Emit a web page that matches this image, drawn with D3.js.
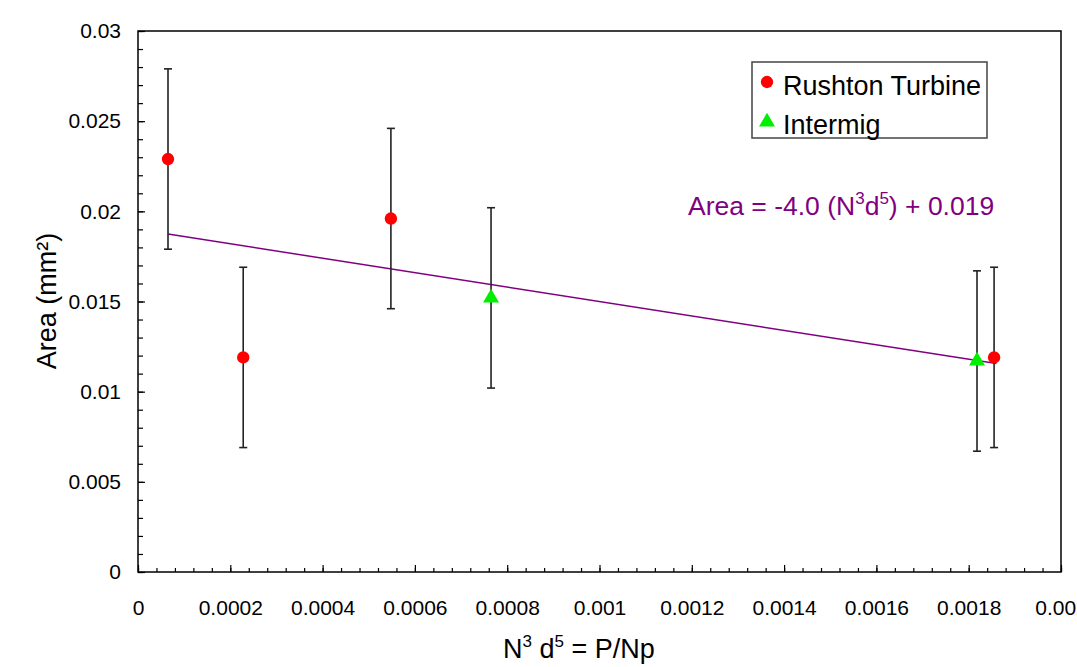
<!DOCTYPE html>
<html>
<head>
<meta charset="utf-8">
<script src="https://cdnjs.cloudflare.com/ajax/libs/d3/7.8.5/d3.min.js"></script>
<style>
	body { margin: 0; background: #fff; }
	text { font-family: "Liberation Sans", Arial, sans-serif; }
</style>
</head>
<body>
<div id="chart"></div>
<script>
const WIDTH = 1077,
	  HEIGHT = 667;

// plot frame
const plotLeft = 138,
	  plotRight = 1061,
	  plotTop = 31,
	  plotBottom = 572;

// data
let rushtonX = [0.000065, 0.000228, 0.000548, 0.001855],
	rushtonY = [0.0229, 0.0119, 0.0196, 0.0119],
	rushtonErr = [0.005, 0.005, 0.005, 0.005];

let intermigX = [0.000765, 0.001818],
	intermigY = [0.0152, 0.0117],
	intermigErr = [0.005, 0.005];

let fitSlope = -4.0,
	fitIntercept = 0.019,
	fitRange = [0.000065, 0.00186];

let xTicks = [0, 0.0002, 0.0004, 0.0006, 0.0008, 0.001, 0.0012, 0.0014, 0.0016, 0.0018, 0.002],
	xTickLabels = ["0", "0.0002", "0.0004", "0.0006", "0.0008", "0.001", "0.0012", "0.0014", "0.0016", "0.0018", "0.002"];
let yTicks = [0, 0.005, 0.01, 0.015, 0.02, 0.025, 0.03],
	yTickLabels = ["0", "0.005", "0.01", "0.015", "0.02", "0.025", "0.03"];

let legendNames = ["Rushton Turbine", "Intermig"];

let svg = d3.select("#chart").append("svg")
	.attr("width", WIDTH)
	.attr("height", HEIGHT);

let x = d3.scaleLinear().domain([0, 0.002]).range([plotLeft, plotRight]),
	y = d3.scaleLinear().domain([0, 0.03]).range([plotBottom, plotTop]);

// minor ticks
let xMinor = d3.range(0, 51).map(i => i * 0.00004),
	yMinor = d3.range(0, 31).map(i => i * 0.001);

svg.append("g")
	.attr("transform", "translate(0," + plotBottom + ")")
	.call(d3.axisBottom(x).tickValues(xMinor).tickSize(-4).tickFormat(""))
	.call(g => g.select(".domain").remove());

svg.append("g")
	.attr("transform", "translate(" + plotLeft + ",0)")
	.call(d3.axisLeft(y).tickValues(yMinor).tickSize(-5).tickFormat(""))
	.call(g => g.select(".domain").remove());

// major ticks and labels
let xAxis = svg.append("g")
	.attr("transform", "translate(0," + plotBottom + ")")
	.call(d3.axisBottom(x).tickValues(xTicks).tickSize(-7).tickPadding(28)
		.tickFormat((d, i) => xTickLabels[i]));

let yAxis = svg.append("g")
	.attr("transform", "translate(" + plotLeft + ",0)")
	.call(d3.axisLeft(y).tickValues(yTicks).tickSize(-7).tickPadding(17)
		.tickFormat((d, i) => yTickLabels[i]));

[xAxis, yAxis].forEach(g => {
	g.select(".domain").remove();
	g.selectAll("text")
		.style("font-size", "21px")
		.style("fill", "#000");
});

svg.selectAll(".tick line").attr("stroke", "#000").attr("stroke-width", 1.2);

// frame
svg.append("rect")
	.attr("x", plotLeft)
	.attr("y", plotTop)
	.attr("width", plotRight - plotLeft)
	.attr("height", plotBottom - plotTop)
	.attr("fill", "none")
	.attr("stroke", "#000")
	.attr("stroke-width", 1.5);

// fit line
svg.append("line")
	.attr("x1", x(fitRange[0]))
	.attr("y1", y(fitSlope * fitRange[0] + fitIntercept))
	.attr("x2", x(fitRange[1]))
	.attr("y2", y(fitSlope * fitRange[1] + fitIntercept))
	.attr("stroke", "#800080")
	.attr("stroke-width", 1.5);

// error bars
function errorBars(xs, ys, errs) {
	xs.forEach((xv, i) => {
		let g = svg.append("g")
			.attr("stroke", "#222")
			.attr("stroke-width", 1.6);
		let x0 = x(xv),
			hi = y(ys[i] + errs[i]),
			lo = y(ys[i] - errs[i]);

		g.append("line").attr("x1", x0).attr("x2", x0).attr("y1", hi).attr("y2", lo);
		g.append("line").attr("x1", x0 - 4).attr("x2", x0 + 4).attr("y1", hi).attr("y2", hi);
		g.append("line").attr("x1", x0 - 4).attr("x2", x0 + 4).attr("y1", lo).attr("y2", lo);
	});
}

errorBars(rushtonX, rushtonY, rushtonErr);
errorBars(intermigX, intermigY, intermigErr);

let circle = d3.symbol().type(d3.symbolCircle).size(120),
	triangle = d3.symbol().type(d3.symbolTriangle).size(110);

svg.selectAll(".rushton")
	.data(rushtonX)
	.enter().append("path")
		.attr("class", "rushton")
		.attr("d", circle)
		.attr("transform", (d, i) => "translate(" + x(d) + "," + y(rushtonY[i]) + ")")
		.attr("fill", "#ff0000");

svg.selectAll(".intermig")
	.data(intermigX)
	.enter().append("path")
		.attr("class", "intermig")
		.attr("d", triangle)
		.attr("transform", (d, i) => "translate(" + x(d) + "," + y(intermigY[i]) + ")")
		.attr("fill", "#00ee00");

// legend
let legend = svg.append("g");

legend.append("rect")
	.attr("x", 752)
	.attr("y", 62)
	.attr("width", 235)
	.attr("height", 76)
	.attr("fill", "#fff")
	.attr("stroke", "#444")
	.attr("stroke-width", 1.5);

legend.append("path")
	.attr("d", circle)
	.attr("transform", "translate(767,82)")
	.attr("fill", "#ff0000");

legend.append("path")
	.attr("d", triangle)
	.attr("transform", "translate(767,122)")
	.attr("fill", "#00ee00");

legend.selectAll(".name")
	.data(legendNames)
	.enter().append("text")
		.attr("class", "name")
		.attr("x", 783)
		.attr("y", (d, i) => 95 + i * 39)
		.style("font-size", "27px")
		.text(d => d);

// equation
let eq = svg.append("text")
	.attr("x", 688)
	.attr("y", 215)
	.style("font-size", "26.5px")
	.style("fill", "#800080");

eq.append("tspan").text("Area = -4.0 (N");
eq.append("tspan").attr("dy", -11).style("font-size", "17px").text("3");
eq.append("tspan").attr("dy", 11).text("d");
eq.append("tspan").attr("dy", -11).style("font-size", "17px").text("5");
eq.append("tspan").attr("dy", 11).text(") + 0.019");

// axis titles
let xTitle = svg.append("text")
	.attr("x", 579)
	.attr("y", 658)
	.attr("text-anchor", "middle")
	.style("font-size", "27px");

xTitle.append("tspan").text("N");
xTitle.append("tspan").attr("dy", -11).style("font-size", "17px").text("3");
xTitle.append("tspan").attr("dy", 11).text(" d");
xTitle.append("tspan").attr("dy", -11).style("font-size", "17px").text("5");
xTitle.append("tspan").attr("dy", 11).text(" = P/Np");

svg.append("text")
	.attr("transform", "translate(56,301) rotate(-90)")
	.attr("text-anchor", "middle")
	.style("font-size", "27px")
	.text("Area (mm²)");
</script>
</body>
</html>
